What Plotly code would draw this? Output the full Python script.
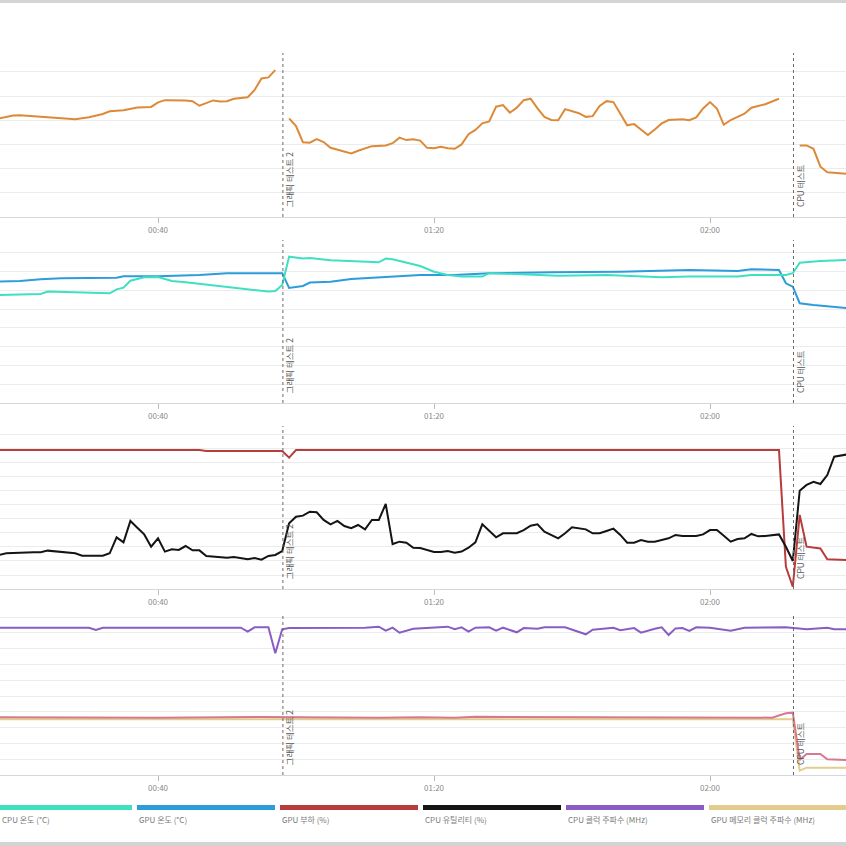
import plotly.graph_objects as go

# ---------------- data ----------------
tick_seconds = [40, 80, 120]
tick_labels = ["00:40", "01:20", "02:00"]

marker_times = [58.1, 132.1]
marker_labels = ["그래픽 테스트 2", "CPU 테스트"]

legend_names = ["CPU 온도 (°C)", "GPU 온도 (°C)", "GPU 부하 (%)", "CPU 유틸리티 (%)",
                "CPU 클럭 주파수 (MHz)", "GPU 메모리 클럭 주파수 (MHz)"]

# Panel 1: frame rate (FPS), segments separated by None
fps_t = [17, 19, 20, 23, 26, 28, 30, 32, 33, 35, 37, 39, 40, 41, 44, 45, 46, 48, 49, 50, 51, 53, 54, 55, 56, 57,
         58,
         59, 60, 61, 62, 63, 64, 65, 67, 68, 69, 70, 71, 73, 74, 75, 76, 77, 78, 79, 80, 81, 82, 83, 84, 85, 86,
         87, 88, 89, 90, 91, 92, 93, 94, 95, 96, 97, 98, 99, 100, 101, 102, 103, 104, 105, 106, 107, 108, 109,
         110, 111, 112, 113, 114, 115, 116, 117, 118, 119, 120, 121, 122, 123, 124, 125, 126, 127, 128, 130,
         131.5,
         133, 134, 135, 136, 137, 138, 140]
fps_v = [40.8, 42.0, 42.1, 41.4, 41.0, 40.4, 41.2, 42.6, 43.7, 44.1, 45.3, 45.5, 47.4, 48.3, 48.2, 47.9, 46.0,
         48.2, 47.8, 47.9, 48.9, 49.5, 52.5, 57.3, 57.7, 60.7,
         None,
         40.8, 37.6, 30.9, 30.7, 32.2, 31.0, 28.6, 26.9, 26.3, 27.4, 28.4, 29.3, 29.6, 30.5, 32.8, 31.8, 32.1,
         31.6, 28.6, 28.4, 29.0, 28.4, 28.2, 30.0, 34.2, 36.0, 38.7, 39.5, 45.6, 46.3, 43.1, 45.2, 48.3, 48.9,
         44.9, 41.4, 40.1, 40.0, 44.6, 43.9, 42.9, 41.4, 41.7, 45.9, 47.9, 47.5, 42.9, 37.9, 38.4, 36.0, 33.9,
         36.2, 38.7, 40.1, 40.1, 40.4, 40.0, 41.2, 44.9, 47.5, 44.8, 38.1, 40.1, 41.4, 42.7, 45.2, 45.9, 46.6,
         48.9,
         None,
         29.6, 29.6, 28.2, 20.8, 18.5, 18.2, 17.8]

# Panel 2: temperatures (°C)
cpu_temp_t = [17, 23, 24, 29, 33, 34, 35, 36, 38, 40, 42, 44, 51, 56, 57, 58, 59, 61, 62, 65, 72, 73, 74, 78,
              80, 82, 84, 87, 88, 92, 98, 105, 113, 117, 124, 126, 131, 132, 133, 136, 140]
cpu_temp_v = [57.6, 58.1, 59.4, 58.8, 58.5, 60.6, 61.5, 65.2, 67.0, 67.2, 65.1, 64.4, 61.3, 59.4, 59.7, 62.9,
              78.0, 77.0, 77.3, 76.1, 75.0, 77.0, 76.6, 73.0, 70.0, 68.3, 67.4, 67.4, 69.2, 68.6, 67.9, 68.3,
              67.0, 67.4, 67.4, 68.3, 68.3, 69.2, 74.8, 75.7, 76.3]

gpu_temp_t = [17, 20, 23, 26, 34, 35, 40, 46, 50, 58, 59, 61, 62, 65, 68, 71, 74, 76, 78, 83, 88, 97, 107, 117,
              124, 126, 130, 131, 132, 133, 135, 140]
gpu_temp_v = [64.7, 65.1, 66.0, 66.5, 66.8, 67.6, 67.6, 68.3, 69.2, 69.2, 61.3, 62.4, 64.2, 64.7, 66.1, 66.8,
              67.4, 68.1, 68.2, 68.3, 69.2, 69.7, 70.0, 70.9, 70.4, 71.3, 70.9, 63.8, 62.0, 53.2, 52.3, 50.5]

# Panel 3: GPU load (%) and CPU utility (%)
gpu_load_t = [17, 46, 47, 58, 59, 60, 130, 131, 132, 133, 134, 136, 137, 140]
gpu_load_v = [99.2, 99.2, 98.6, 98.6, 93.8, 99.2, 99.2, 15.9, 1.6, 52.9, 30.2, 29.0, 21.2, 20.7]

cpu_util_t = [17, 18, 22, 23, 24, 26, 28, 29, 32, 33, 34, 35, 36, 37, 38, 39, 40, 41, 42, 43, 44, 45, 46, 47,
              49, 50, 51, 53, 54, 55, 56, 57, 58, 59, 60, 61, 62, 63, 64, 65, 66, 67, 68, 69, 70, 71, 72, 73,
              74, 75, 76, 77, 78, 79, 80, 81, 82, 83, 84, 85, 86, 87, 88, 89, 90, 92, 93, 94, 95, 96, 98, 99,
              100, 102, 103, 104, 105, 106, 107, 108, 109, 110, 111, 112, 113, 114, 115, 116, 118, 119, 120,
              121, 122, 123, 124, 125, 126, 127, 128, 130, 131, 132, 133, 134, 135, 136, 137, 138, 140]
cpu_util_v = [24.3, 25.5, 26.2, 26.2, 27.4, 26.2, 25.5, 23.8, 23.8, 25.5, 36.9, 33.3, 48.6, 43.8, 39.0, 30.2,
              36.2, 26.7, 28.3, 27.9, 30.7, 27.6, 27.6, 23.6, 23.1, 22.4, 22.9, 21.2, 22.1, 20.9, 23.6, 24.3,
              27.1, 46.9, 51.6, 52.4, 55.2, 54.8, 49.3, 46.2, 48.6, 45.0, 43.4, 45.7, 42.6, 49.3, 49.3, 60.7,
              32.1, 33.8, 33.1, 29.5, 29.2, 27.9, 26.4, 26.4, 27.1, 25.9, 26.7, 29.5, 33.3, 46.2, 41.4, 36.9,
              39.8, 39.8, 42.1, 45.2, 46.2, 40.9, 36.2, 39.8, 44.1, 42.6, 39.8, 39.8, 41.4, 43.1, 38.6, 33.1,
              33.1, 35.0, 33.8, 33.8, 35.0, 36.2, 38.6, 37.9, 37.9, 39.0, 42.1, 42.1, 38.1, 33.8, 35.7, 36.2,
              39.3, 37.6, 37.9, 39.0, 30.2, 20.0, 70.2, 74.3, 76.6, 75.0, 81.4, 94.5, 96.2]

# Panel 4: clocks (MHz)
cpu_clock_t = [17, 30, 31, 32, 52, 53, 54, 56, 57, 58, 59, 70, 72, 73, 74, 75, 77, 78, 82, 83, 84, 85, 86, 88,
               89, 90, 92, 93, 95, 96, 99, 102, 103, 106, 107, 109, 110, 112, 113, 114, 115, 116, 117, 118,
               120, 123, 125, 131, 134, 137, 138, 140]
cpu_clock_v = [4662, 4662, 4589, 4662, 4662, 4536, 4673, 4673, 3852, 4611, 4650, 4660, 4694, 4567, 4662, 4504,
               4630, 4643, 4694, 4611, 4673, 4536, 4662, 4673, 4567, 4662, 4516, 4650, 4630, 4673, 4673, 4453,
               4600, 4662, 4580, 4650, 4504, 4630, 4673, 4431, 4640, 4650, 4560, 4673, 4662, 4567, 4662, 4673,
               4611, 4662, 4611, 4611]

gpu_clock_t = [17, 40, 55, 58, 60, 72, 78, 83, 86, 95, 100, 120, 129, 131, 132, 133, 134, 136, 137, 140]
gpu_clock_v = [1826, 1810, 1835, 1832, 1845, 1810, 1830, 1815, 1840, 1835, 1815, 1826, 1815, 1953, 1973, 475,
               665, 665, 497, 475]

gpu_mem_clock_t = [17, 60, 100, 130, 132, 133, 134, 140]
gpu_mem_clock_v = [1762, 1765, 1760, 1762, 1762, 137, 232, 232]

# ---------------- style ----------------
C_FPS = "#dd8a38"
C_CPU_T = "#3fe0c2"
C_GPU_T = "#2d9cdb"
C_LOAD = "#b83c3c"
C_UTIL = "#141414"
C_CPUCLK = "#8b5cc4"
C_MEM = "#e3cd8c"
C_GPUCLK = "#d7788e"
legend_colors = [C_CPU_T, C_GPU_T, C_LOAD, C_UTIL, C_CPUCLK, C_MEM]

W = H = 846
FONT = "Noto Sans CJK KR, Noto Sans, sans-serif"

# panel geometry in px from top: (axis bottom, panel top)
panels_px = [(217, 53), (403, 240), (589, 426), (775, 613)]
yranges = [[0, 67.8], [0, 86.9], [0, 116.4], [0, 5127]]
ydticks = [10, 10, 10, 500]
xrange_ = [17.1, 139.71]

fig = go.Figure()

def add(t, v, color, panel, width=2):
    sfx = "" if panel == 1 else str(panel)
    fig.add_trace(go.Scatter(x=t, y=v, mode="lines", line=dict(color=color, width=width),
                             xaxis="x" + sfx, yaxis="y" + sfx, showlegend=False,
                             connectgaps=False, hoverinfo="skip"))

add(fps_t, fps_v, C_FPS, 1)
add(gpu_temp_t, gpu_temp_v, C_GPU_T, 2)
add(cpu_temp_t, cpu_temp_v, C_CPU_T, 2)
add(gpu_load_t, gpu_load_v, C_LOAD, 3)
add(cpu_util_t, cpu_util_v, C_UTIL, 3)
add(gpu_mem_clock_t, gpu_mem_clock_v, C_MEM, 4)
add(gpu_clock_t, gpu_clock_v, C_GPUCLK, 4)
add(cpu_clock_t, cpu_clock_v, C_CPUCLK, 4)

layout = dict(width=W, height=H, margin=dict(l=0, r=0, t=0, b=0),
              paper_bgcolor="white", plot_bgcolor="white", showlegend=False,
              font=dict(family=FONT))
shapes = []
annotations = []
for i, ((bot, top), yr, dt) in enumerate(zip(panels_px, yranges, ydticks), start=1):
    sfx = "" if i == 1 else str(i)
    layout["xaxis" + sfx] = dict(domain=[0, 1], range=xrange_, anchor="y" + sfx,
                                 tickvals=tick_seconds, ticktext=tick_labels,
                                 ticks="outside", ticklen=5, tickcolor="#bbbbbb", tickwidth=1,
                                 showgrid=False, zeroline=False, showline=True,
                                 linecolor="#d8d8d8", linewidth=1,
                                 tickfont=dict(size=8, color="#8a8a8a", family=FONT),
                                 automargin=False, fixedrange=True)
    layout["yaxis" + sfx] = dict(domain=[1 - bot / H, 1 - top / H], range=yr, dtick=dt,
                                 anchor="x" + sfx, showticklabels=False, showgrid=True,
                                 gridcolor="#ececec", gridwidth=1, zeroline=False,
                                 showline=False, ticks="", automargin=False, fixedrange=True)
    for mt, ml in zip(marker_times, marker_labels):
        shapes.append(dict(type="line", xref="x" + sfx, yref="y" + sfx + " domain",
                           x0=mt, x1=mt, y0=0, y1=1,
                           line=dict(color="#6a6a6a", width=1, dash="dot")))
        annotations.append(dict(text=ml, xref="x" + sfx, yref="y" + sfx + " domain",
                                x=mt, y=0, xanchor="center", yanchor="bottom",
                                xshift=6.5, yshift=8, textangle=-90, showarrow=False,
                                font=dict(size=8.5, color="#555555", family=FONT)))

# legend strip (bars + labels)
for k, (name, col) in enumerate(zip(legend_names, legend_colors)):
    left = -6 + 143 * k
    shapes.append(dict(type="rect", xref="paper", yref="paper",
                       x0=left / W, x1=(left + 138) / W, y0=1 - 810 / H, y1=1 - 805 / H,
                       fillcolor=col, line=dict(width=0)))
    text_left = max(left, 0)
    annotations.append(dict(text=name, xref="paper", yref="paper", x=text_left / W, y=1 - 819 / H,
                            xanchor="left", yanchor="middle", showarrow=False,
                            font=dict(size=8, color="#7a7a7a", family=FONT)))

# grey page borders from the screenshot
shapes.append(dict(type="rect", xref="paper", yref="paper", x0=0, x1=1, y0=1 - 3 / H, y1=1,
                   fillcolor="#d4d4d4", line=dict(width=0)))
shapes.append(dict(type="rect", xref="paper", yref="paper", x0=0, x1=1, y0=0, y1=4 / H,
                   fillcolor="#d4d4d4", line=dict(width=0)))

layout["shapes"] = shapes
layout["annotations"] = annotations
fig.update_layout(**layout)
fig.write_html("out.html", config={"displayModeBar": False})
